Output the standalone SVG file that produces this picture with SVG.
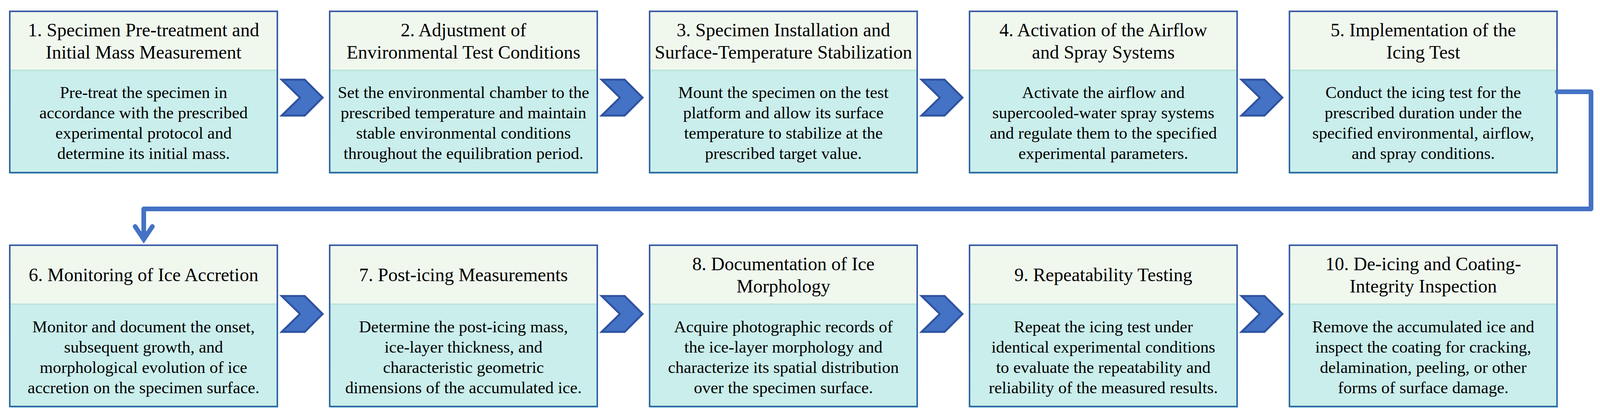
<svg xmlns="http://www.w3.org/2000/svg" width="4106" height="1073" viewBox="0 0 4106 1073">
<defs>
<linearGradient id="bord" x1="0" y1="0" x2="0" y2="1">
<stop offset="0" stop-color="#3A5CA8"/>
<stop offset="1" stop-color="#2F6BA4"/>
</linearGradient>
<g id="chev"><polygon points="0,0 59,0 105,46 59,92 0,92 47,46" fill="#4472C4" stroke="#2F52A0" stroke-width="5" stroke-linejoin="miter"/></g>
</defs>
<style>
.hd{fill:#F0F8EE}
.bd{fill:#CAEEEB}
.dv{stroke:#BDE5DA;stroke-width:4}
.sh{fill:#C9EEF0}
.fr{fill:none;stroke:url(#bord);stroke-width:4}
.t{font-family:"Liberation Serif","Times New Roman",serif;font-size:48px;fill:#000;text-anchor:middle}
.b{font-family:"Liberation Serif","Times New Roman",serif;font-size:43px;fill:#000;text-anchor:middle}
.cn{fill:none;stroke:#4472C4;stroke-width:12;stroke-linecap:round;stroke-linejoin:round}
</style>
<rect width="4106" height="1073" fill="#fff"/>

<g id="node1">
<rect class="sh" x="27" y="443" width="685" height="3"/>
<rect class="hd" x="25" y="29" width="685" height="151"/>
<rect class="bd" x="25" y="180" width="685" height="262"/>
<line class="dv" x1="25" y1="180" x2="710" y2="180"/>
<rect class="fr" x="25" y="29" width="685" height="413"/>
<text class="t" x="367.5" y="93">1. Specimen Pre-treatment and</text>
<text class="t" x="367.5" y="150">Initial Mass Measurement</text>
<text class="b" x="367.5" y="251">Pre-treat the specimen in</text>
<text class="b" x="367.5" y="303">accordance with the prescribed</text>
<text class="b" x="367.5" y="355">experimental protocol and</text>
<text class="b" x="367.5" y="407">determine its initial mass.</text>
</g>

<g id="node2">
<rect class="sh" x="846" y="443" width="685" height="3"/>
<rect class="hd" x="844" y="29" width="685" height="151"/>
<rect class="bd" x="844" y="180" width="685" height="262"/>
<line class="dv" x1="844" y1="180" x2="1529" y2="180"/>
<rect class="fr" x="844" y="29" width="685" height="413"/>
<text class="t" x="1186.5" y="93">2. Adjustment of</text>
<text class="t" x="1186.5" y="150">Environmental Test Conditions</text>
<text class="b" x="1186.5" y="251">Set the environmental chamber to the</text>
<text class="b" x="1186.5" y="303">prescribed temperature and maintain</text>
<text class="b" x="1186.5" y="355">stable environmental conditions</text>
<text class="b" x="1186.5" y="407">throughout the equilibration period.</text>
</g>

<g id="node3">
<rect class="sh" x="1665" y="443" width="685" height="3"/>
<rect class="hd" x="1663" y="29" width="685" height="151"/>
<rect class="bd" x="1663" y="180" width="685" height="262"/>
<line class="dv" x1="1663" y1="180" x2="2348" y2="180"/>
<rect class="fr" x="1663" y="29" width="685" height="413"/>
<text class="t" x="2005.5" y="93">3. Specimen Installation and</text>
<text class="t" x="2005.5" y="150">Surface-Temperature Stabilization</text>
<text class="b" x="2005.5" y="251">Mount the specimen on the test</text>
<text class="b" x="2005.5" y="303">platform and allow its surface</text>
<text class="b" x="2005.5" y="355">temperature to stabilize at the</text>
<text class="b" x="2005.5" y="407">prescribed target value.</text>
</g>

<g id="node4">
<rect class="sh" x="2484" y="443" width="685" height="3"/>
<rect class="hd" x="2482" y="29" width="685" height="151"/>
<rect class="bd" x="2482" y="180" width="685" height="262"/>
<line class="dv" x1="2482" y1="180" x2="3167" y2="180"/>
<rect class="fr" x="2482" y="29" width="685" height="413"/>
<text class="t" x="2824.5" y="93">4. Activation of the Airflow</text>
<text class="t" x="2824.5" y="150">and Spray Systems</text>
<text class="b" x="2824.5" y="251">Activate the airflow and</text>
<text class="b" x="2824.5" y="303">supercooled-water spray systems</text>
<text class="b" x="2824.5" y="355">and regulate them to the specified</text>
<text class="b" x="2824.5" y="407">experimental parameters.</text>
</g>

<g id="node5">
<rect class="sh" x="3303" y="443" width="685" height="3"/>
<rect class="hd" x="3301" y="29" width="685" height="151"/>
<rect class="bd" x="3301" y="180" width="685" height="262"/>
<line class="dv" x1="3301" y1="180" x2="3986" y2="180"/>
<rect class="fr" x="3301" y="29" width="685" height="413"/>
<text class="t" x="3643.5" y="93">5. Implementation of the</text>
<text class="t" x="3643.5" y="150">Icing Test</text>
<text class="b" x="3643.5" y="251">Conduct the icing test for the</text>
<text class="b" x="3643.5" y="303">prescribed duration under the</text>
<text class="b" x="3643.5" y="355">specified environmental, airflow,</text>
<text class="b" x="3643.5" y="407">and spray conditions.</text>
</g>

<g id="node6">
<rect class="sh" x="27" y="1042" width="685" height="3"/>
<rect class="hd" x="25" y="628" width="685" height="151"/>
<rect class="bd" x="25" y="779" width="685" height="262"/>
<line class="dv" x1="25" y1="779" x2="710" y2="779"/>
<rect class="fr" x="25" y="628" width="685" height="413"/>
<text class="t" x="367.5" y="720">6. Monitoring of Ice Accretion</text>
<text class="b" x="367.5" y="851">Monitor and document the onset,</text>
<text class="b" x="367.5" y="903">subsequent growth, and</text>
<text class="b" x="367.5" y="955">morphological evolution of ice</text>
<text class="b" x="367.5" y="1007">accretion on the specimen surface.</text>
</g>

<g id="node7">
<rect class="sh" x="846" y="1042" width="685" height="3"/>
<rect class="hd" x="844" y="628" width="685" height="151"/>
<rect class="bd" x="844" y="779" width="685" height="262"/>
<line class="dv" x1="844" y1="779" x2="1529" y2="779"/>
<rect class="fr" x="844" y="628" width="685" height="413"/>
<text class="t" x="1186.5" y="720">7. Post-icing Measurements</text>
<text class="b" x="1186.5" y="851">Determine the post-icing mass,</text>
<text class="b" x="1186.5" y="903">ice-layer thickness, and</text>
<text class="b" x="1186.5" y="955">characteristic geometric</text>
<text class="b" x="1186.5" y="1007">dimensions of the accumulated ice.</text>
</g>

<g id="node8">
<rect class="sh" x="1665" y="1042" width="685" height="3"/>
<rect class="hd" x="1663" y="628" width="685" height="151"/>
<rect class="bd" x="1663" y="779" width="685" height="262"/>
<line class="dv" x1="1663" y1="779" x2="2348" y2="779"/>
<rect class="fr" x="1663" y="628" width="685" height="413"/>
<text class="t" x="2005.5" y="692">8. Documentation of Ice</text>
<text class="t" x="2005.5" y="749">Morphology</text>
<text class="b" x="2005.5" y="851">Acquire photographic records of</text>
<text class="b" x="2005.5" y="903">the ice-layer morphology and</text>
<text class="b" x="2005.5" y="955">characterize its spatial distribution</text>
<text class="b" x="2005.5" y="1007">over the specimen surface.</text>
</g>

<g id="node9">
<rect class="sh" x="2484" y="1042" width="685" height="3"/>
<rect class="hd" x="2482" y="628" width="685" height="151"/>
<rect class="bd" x="2482" y="779" width="685" height="262"/>
<line class="dv" x1="2482" y1="779" x2="3167" y2="779"/>
<rect class="fr" x="2482" y="628" width="685" height="413"/>
<text class="t" x="2824.5" y="720">9. Repeatability Testing</text>
<text class="b" x="2824.5" y="851">Repeat the icing test under</text>
<text class="b" x="2824.5" y="903">identical experimental conditions</text>
<text class="b" x="2824.5" y="955">to evaluate the repeatability and</text>
<text class="b" x="2824.5" y="1007">reliability of the measured results.</text>
</g>

<g id="node10">
<rect class="sh" x="3303" y="1042" width="685" height="3"/>
<rect class="hd" x="3301" y="628" width="685" height="151"/>
<rect class="bd" x="3301" y="779" width="685" height="262"/>
<line class="dv" x1="3301" y1="779" x2="3986" y2="779"/>
<rect class="fr" x="3301" y="628" width="685" height="413"/>
<text class="t" x="3643.5" y="692">10. De-icing and Coating-</text>
<text class="t" x="3643.5" y="749">Integrity Inspection</text>
<text class="b" x="3643.5" y="851">Remove the accumulated ice and</text>
<text class="b" x="3643.5" y="903">inspect the coating for cracking,</text>
<text class="b" x="3643.5" y="955">delamination, peeling, or other</text>
<text class="b" x="3643.5" y="1007">forms of surface damage.</text>
</g>

<g id="connectors">
<use href="#chev" x="721" y="204"/>
<use href="#chev" x="1540" y="204"/>
<use href="#chev" x="2359" y="204"/>
<use href="#chev" x="3178" y="204"/>
<use href="#chev" x="721" y="758"/>
<use href="#chev" x="1540" y="758"/>
<use href="#chev" x="2359" y="758"/>
<use href="#chev" x="3178" y="758"/>
<path class="cn" d="M3986,235 L4073,235 L4073,535 L368,535 L368,612"/>
<path d="M346,580 L368,613 L390,580" fill="none" stroke="#4472C4" stroke-width="12" stroke-linecap="round" stroke-linejoin="miter" stroke-miterlimit="10"/>
</g>
</svg>
